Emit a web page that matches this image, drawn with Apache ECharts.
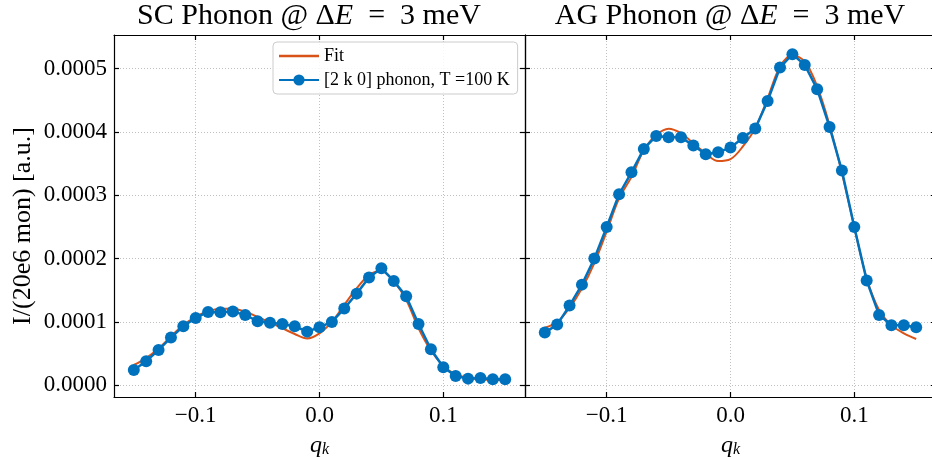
<!DOCTYPE html>
<html>
<head>
<meta charset="utf-8">
<script src="https://cdn.jsdelivr.net/npm/echarts@6/dist/echarts.min.js"></script>
<style>
html,body{margin:0;padding:0;background:#fff;}
#chart{width:932px;height:457px;}
</style>
</head>
<body>
<div id="chart"></div>
<script>
// q_k positions of the measured points
const qValues = [-0.15,-0.14,-0.13,-0.12,-0.11,-0.10,-0.09,-0.08,-0.07,-0.06,-0.05,-0.04,-0.03,-0.02,-0.01,0.00,
                 0.01,0.02,0.03,0.04,0.05,0.06,0.07,0.08,0.09,0.10,0.11,0.12,0.13,0.14,0.15];
// intensities in units of 1e-4 a.u.
const scData = [0.242,0.379,0.558,0.753,0.932,1.063,1.158,1.153,1.163,1.111,1.011,0.989,0.968,0.932,0.847,0.916,
                1.000,1.211,1.447,1.700,1.847,1.647,1.405,0.968,0.568,0.284,0.147,0.105,0.116,0.095,0.095];
const scFit  = [0.32,0.43,0.58,0.77,0.95,1.08,1.17,1.21,1.21,1.16,1.08,0.99,0.90,0.81,0.74,0.82,
                1.00,1.27,1.53,1.74,1.81,1.64,1.35,0.90,0.55,0.31,0.17,0.12,0.095,0.085,0.085];
const agData = [0.832,0.958,1.258,1.589,2.000,2.500,3.016,3.363,3.732,3.937,3.916,3.916,3.784,3.647,3.679,3.753,
                3.905,4.053,4.489,5.016,5.226,5.058,4.674,4.079,3.389,2.500,1.653,1.111,0.947,0.947,0.916];
const agFit  = [0.91,1.00,1.22,1.53,1.93,2.43,2.95,3.29,3.71,3.95,4.05,3.98,3.82,3.66,3.54,3.57,
                3.77,4.06,4.53,5.03,5.21,5.11,4.72,4.11,3.35,2.50,1.69,1.19,0.95,0.82,0.73];

const xTickVals = [-0.1, 0.0, 0.1];
const xTickLabels = ['\u22120.1', '0.0', '0.1'];
const yTickVals = [0, 1, 2, 3, 4, 5];
const yTickLabels = ['0.0000', '0.0001', '0.0002', '0.0003', '0.0004', '0.0005'];

const titles = ['SC Phonon @ \u0394{i|E}  =  3 meV', 'AG Phonon @ \u0394{i|E}  =  3 meV'];
const fitName = 'Fit';
const dataName = '[2 k 0] phonon, T =100 K';

const FONT = '"Liberation Serif", "DejaVu Serif", serif';
const BLUE = '#0072BD';
const ORANGE = '#D95319';

const pairs = (xs, ys) => xs.map((x, i) => [x, ys[i]]);

const XMIN = -0.166, XMAX = 0.166;
const YMIN = -0.185, YMAX = 5.53;

const gridLine = {show: true, lineStyle: {color: '#b0b0b0', type: [1, 2], width: 0.8}};
const axLine = {show: true, onZero: false, lineStyle: {color: '#000', width: 1.2}};

function xAxisDef(gi, pos) {
  const bottom = pos === 'bottom';
  return {
    type: 'value', gridIndex: gi, position: pos, min: XMIN, max: XMAX,
    axisLine: axLine,
    axisTick: {show: true, inside: true, length: 5, lineStyle: {color: '#000', width: 1.2}, customValues: xTickVals},
    axisLabel: bottom ? {
      show: true, customValues: xTickVals, margin: 7, color: '#000', fontFamily: FONT, fontSize: 23,
      formatter: v => { const i = xTickVals.findIndex(t => Math.abs(t - v) < 1e-9); return i >= 0 ? xTickLabels[i] : ''; }
    } : {show: false},
    splitLine: bottom ? gridLine : {show: false},
    name: bottom ? '{q|q}{k|k}' : '',
    nameLocation: 'middle', nameGap: 37,
    nameTextStyle: {
      fontFamily: FONT, color: '#000',
      rich: {q: {fontStyle: 'italic', fontSize: 24, fontFamily: FONT}, k: {fontStyle: 'italic', fontSize: 16, fontFamily: FONT, verticalAlign: 'bottom', padding: [8, 0, 0, 0]}}
    }
  };
}
function yAxisDef(gi, pos, labels) {
  const left = pos === 'left';
  return {
    type: 'value', gridIndex: gi, position: pos, min: YMIN, max: YMAX,
    axisLine: axLine,
    axisTick: {show: true, inside: true, length: 5, lineStyle: {color: '#000', width: 1.2}, customValues: yTickVals},
    axisLabel: labels ? {
      show: true, customValues: yTickVals, margin: 7, color: '#000', fontFamily: FONT, fontSize: 23,
      formatter: v => { const i = yTickVals.findIndex(t => Math.abs(t - v) < 1e-9); return i >= 0 ? yTickLabels[i] : ''; }
    } : {show: false},
    splitLine: left ? gridLine : {show: false}
  };
}

const chart = echarts.init(document.getElementById('chart'), null, {renderer: 'canvas'});
chart.setOption({
  animation: false,
  backgroundColor: '#fff',
  title: [
    {text: titles[0], left: 304, top: -4, textAlign: 'center',
     textStyle: {fontFamily: FONT, fontSize: 30, fontWeight: 'normal', color: '#000',
                 rich: {i: {fontStyle: 'italic', fontFamily: FONT, fontSize: 30}}}},
    {text: titles[1], left: 725, top: -4, textAlign: 'center',
     textStyle: {fontFamily: FONT, fontSize: 30, fontWeight: 'normal', color: '#000',
                 rich: {i: {fontStyle: 'italic', fontFamily: FONT, fontSize: 30}}}}
  ],
  legend: {
    data: [{name: fitName, icon: 'path://M0,0 L40,0 L40,2.5 L0,2.5 Z'}, {name: dataName}],
    orient: 'vertical', left: 273, top: 42,
    backgroundColor: 'rgba(255,255,255,0.85)', borderColor: '#cccccc', borderWidth: 1, borderRadius: 4,
    padding: [5, 8, 5, 5], itemGap: 6, itemWidth: 40, itemHeight: 14,
    textStyle: {fontFamily: FONT, fontSize: 18, color: '#000'}
  },
  graphic: [{
    type: 'text', x: 23, y: 226, rotation: Math.PI / 2,
    style: {text: 'I/(20e6 mon) [a.u.]', font: '26px "Liberation Serif"', fill: '#000', align: 'center', verticalAlign: 'middle'}
  }],
  grid: [
    {left: 114, top: 35, width: 411, height: 362, containLabel: false, outerBoundsMode: 'none'},
    {left: 525, top: 35, width: 411, height: 362, containLabel: false, outerBoundsMode: 'none'}
  ],
  xAxis: [xAxisDef(0, 'bottom'), xAxisDef(1, 'bottom'), xAxisDef(0, 'top'), xAxisDef(1, 'top')],
  yAxis: [yAxisDef(0, 'left', true), yAxisDef(1, 'left', false), yAxisDef(0, 'right', false), yAxisDef(1, 'right', false)],
  series: [
    {name: fitName, type: 'line', xAxisIndex: 0, yAxisIndex: 0, data: pairs(qValues, scFit), smooth: 0.35,
     showSymbol: false, symbol: 'none', lineStyle: {color: ORANGE, width: 2}, itemStyle: {color: ORANGE}, z: 2},
    {name: dataName, type: 'line', xAxisIndex: 0, yAxisIndex: 0, data: pairs(qValues, scData),
     symbol: 'circle', symbolSize: 12, lineStyle: {color: BLUE, width: 2.5}, itemStyle: {color: BLUE}, z: 3},
    {name: fitName, type: 'line', xAxisIndex: 1, yAxisIndex: 1, data: pairs(qValues, agFit), smooth: 0.35,
     showSymbol: false, symbol: 'none', lineStyle: {color: ORANGE, width: 2}, itemStyle: {color: ORANGE}, z: 2},
    {name: dataName, type: 'line', xAxisIndex: 1, yAxisIndex: 1, data: pairs(qValues, agData),
     symbol: 'circle', symbolSize: 12, lineStyle: {color: BLUE, width: 2.5}, itemStyle: {color: BLUE}, z: 3}
  ]
});
</script>
</body>
</html>
